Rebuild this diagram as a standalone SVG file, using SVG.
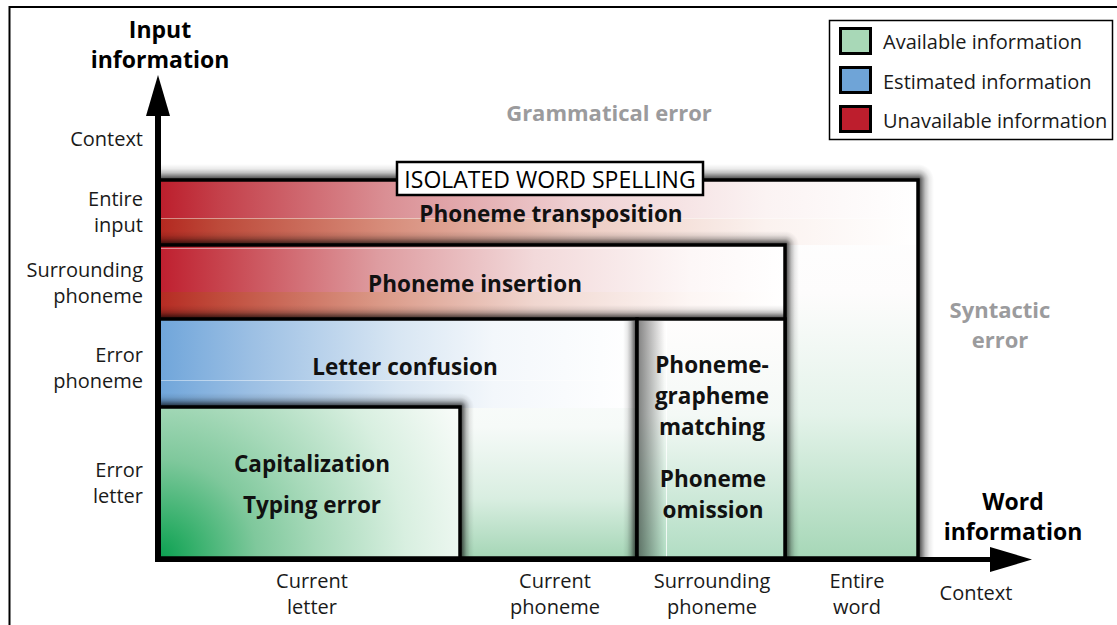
<svg xmlns="http://www.w3.org/2000/svg" width="1117" height="625" viewBox="0 0 1117 625">
<style>
text{font-family:"Open Sans","Noto Sans","Liberation Sans",sans-serif}
.lbl{font-size:20px;fill:#1a1a1a}
.b{font-size:22.5px;font-weight:700;fill:#111}
.ax{font-size:23px;font-weight:700;fill:#000}
.gr{font-size:22px;font-weight:700;fill:#9b9b9d}
.mid{text-anchor:middle}
.end{text-anchor:end}
.edge{fill:none;stroke:#000;stroke-width:3.5}
.up{fill:url(#gU)}
.rt{fill:url(#gR)}
.lt{fill:url(#gL)}
.tr{fill:url(#gTR)}
.sw{stroke:#000;stroke-width:3}
.hl{stroke:#fff;stroke-opacity:.45}
</style>
<defs>
  <!-- soft shadow fades, dark at the box edge -->
  <linearGradient id="gU" x1="0" y1="1" x2="0" y2="0">
    <stop offset="0" stop-color="#000" stop-opacity=".8"/><stop offset=".2" stop-color="#000" stop-opacity=".55"/>
    <stop offset=".45" stop-color="#000" stop-opacity=".25"/><stop offset=".7" stop-color="#000" stop-opacity=".08"/>
    <stop offset="1" stop-color="#000" stop-opacity="0"/>
  </linearGradient>
  <linearGradient id="gR" href="#gU" x1="0" y1="0" x2="1" y2="0"/>
  <linearGradient id="gL" href="#gU" x1="1" y1="0" x2="0" y2="0"/>
  <radialGradient id="gTR" href="#gU" cx="0" cy="1" r="1" fx="0" fy="1"/>
  <!-- red bands -->
  <linearGradient id="redT1" gradientUnits="userSpaceOnUse" x1="158" y1="0" x2="918" y2="0">
    <stop offset="0" stop-color="#bc1d2b"/><stop offset=".08" stop-color="#c4404a"/><stop offset=".3" stop-color="#da8f94"/>
    <stop offset=".55" stop-color="#efd0d2"/><stop offset=".8" stop-color="#fbf3f3"/><stop offset="1" stop-color="#fff"/>
  </linearGradient>
  <linearGradient id="redT2" gradientUnits="userSpaceOnUse" x1="158" y1="0" x2="918" y2="0">
    <stop offset="0" stop-color="#b3271f"/><stop offset=".08" stop-color="#bd4a3a"/><stop offset=".3" stop-color="#d78d7b"/>
    <stop offset=".55" stop-color="#eccbc1"/><stop offset=".8" stop-color="#fbf2ef"/><stop offset="1" stop-color="#fff"/>
  </linearGradient>
  <linearGradient id="redI1" gradientUnits="userSpaceOnUse" x1="158" y1="0" x2="785" y2="0">
    <stop offset="0" stop-color="#bf1e2e"/><stop offset=".1" stop-color="#c7434d"/><stop offset=".35" stop-color="#de9ca0"/>
    <stop offset=".6" stop-color="#f2d9da"/><stop offset=".85" stop-color="#fdf7f7"/><stop offset="1" stop-color="#fff"/>
  </linearGradient>
  <linearGradient id="redI2" gradientUnits="userSpaceOnUse" x1="158" y1="0" x2="785" y2="0">
    <stop offset="0" stop-color="#b52a22"/><stop offset=".1" stop-color="#c04c3c"/><stop offset=".35" stop-color="#da9886"/>
    <stop offset=".6" stop-color="#f0d6cf"/><stop offset=".85" stop-color="#fdf6f4"/><stop offset="1" stop-color="#fff"/>
  </linearGradient>
  <!-- blue band -->
  <linearGradient id="blue" gradientUnits="userSpaceOnUse" x1="158" y1="0" x2="637" y2="0">
    <stop offset="0" stop-color="#6fa5da"/><stop offset=".2" stop-color="#9dc0e4"/><stop offset=".5" stop-color="#d8e6f3"/>
    <stop offset=".7" stop-color="#f3f7fb"/><stop offset="1" stop-color="#fff"/>
  </linearGradient>
  <!-- green fades -->
  <linearGradient id="gOuter" gradientUnits="userSpaceOnUse" x1="0" y1="180" x2="0" y2="558">
    <stop offset="0" stop-color="#fff"/><stop offset=".3" stop-color="#fdfcfc"/><stop offset=".62" stop-color="#e4f3ea"/><stop offset="1" stop-color="#a6d7b7"/>
  </linearGradient>
  <linearGradient id="gLC" gradientUnits="userSpaceOnUse" x1="0" y1="319" x2="0" y2="558">
    <stop offset="0" stop-color="#fff"/><stop offset=".45" stop-color="#f6faf8"/><stop offset=".75" stop-color="#d9eee1"/><stop offset="1" stop-color="#a5d6b6"/>
  </linearGradient>
  <linearGradient id="gPG" gradientUnits="userSpaceOnUse" x1="0" y1="319" x2="0" y2="558">
    <stop offset="0" stop-color="#fffdfd"/><stop offset=".4" stop-color="#f4f9f6"/><stop offset="1" stop-color="#b1ddc3"/>
  </linearGradient>
  <radialGradient id="gCap" gradientUnits="userSpaceOnUse" cx="158" cy="558" r="330">
    <stop offset="0" stop-color="#0a9f50"/><stop offset=".1" stop-color="#30ae68"/><stop offset=".3" stop-color="#7fc89c"/>
    <stop offset=".48" stop-color="#a6d9b9"/><stop offset=".75" stop-color="#d8efe0"/><stop offset="1" stop-color="#f7fbf8"/>
  </radialGradient>
  <linearGradient id="shadeL" x1="0" y1="0" x2="1" y2="0">
    <stop offset="0" stop-color="#000" stop-opacity=".5"/><stop offset="1" stop-color="#000" stop-opacity="0"/>
  </linearGradient>
</defs>

<!-- page frame -->
<path d="M9.5,625 V7 H1117" fill="none" stroke="#000" stroke-width="2"/>

<!-- ISOLATED WORD SPELLING region -->
<g id="isolated-word-spelling">
  <rect class="up" x="161" y="164" width="757" height="16"/>
  <rect class="tr" x="918" y="164" width="16" height="16"/>
  <rect class="rt" x="918" y="180" width="16" height="378"/>
  <rect x="158" y="180" width="760" height="378" fill="url(#gOuter)"/>
  <rect x="158" y="180" width="760" height="38" fill="url(#redT1)"/>
  <rect x="158" y="218" width="760" height="27" fill="url(#redT2)"/>
  <line class="hl" x1="158" y1="218.5" x2="918" y2="218.5"/>
  <rect class="edge" x="158" y="180" width="760" height="378"/>
</g>

<!-- Phoneme insertion -->
<g id="phoneme-insertion">
  <rect class="up" x="161" y="231" width="624" height="14"/>
  <rect class="tr" x="785" y="231" width="14" height="14"/>
  <rect class="rt" x="785" y="245" width="14" height="313"/>
  <rect x="158" y="245" width="627" height="313" fill="#fff"/>
  <rect x="158" y="245" width="627" height="47" fill="url(#redI1)"/>
  <rect x="158" y="292" width="627" height="27" fill="url(#redI2)"/>
  <line class="hl" x1="158" y1="248.5" x2="785" y2="248.5"/>
  <rect class="edge" x="158" y="245" width="627" height="313"/>
</g>

<!-- Letter confusion -->
<g id="letter-confusion">
  <rect class="up" x="161" y="305" width="476" height="14"/>
  <rect x="158" y="319" width="479" height="239" fill="url(#gLC)"/>
  <rect x="158" y="319" width="479" height="89" fill="url(#blue)"/>
  <line class="hl" x1="158" y1="380.5" x2="637" y2="380.5"/>
  <rect class="edge" x="158" y="319" width="479" height="239" stroke-width="4"/>
</g>

<!-- Phoneme-grapheme matching / omission -->
<g id="phoneme-grapheme">
  <rect class="up" x="637" y="305" width="148" height="14"/>
  <rect class="lt" x="623" y="321" width="14" height="237"/>
  <rect x="637" y="319" width="148" height="239" fill="url(#gPG)"/>
  <rect x="637" y="321" width="28" height="237" fill="url(#shadeL)"/>
  <line x1="666.5" y1="322" x2="666.5" y2="558" stroke="#fff" stroke-opacity=".8"/>
  <rect class="edge" x="637" y="319" width="148" height="239" stroke-width="4"/>
</g>

<!-- Capitalization / typing error -->
<g id="capitalization">
  <rect class="up" x="161" y="393" width="299" height="14"/>
  <rect class="tr" x="460" y="393" width="14" height="14"/>
  <rect class="rt" x="460" y="407" width="14" height="151"/>
  <rect x="158" y="407" width="302" height="151" fill="url(#gCap)"/>
  <rect class="edge" x="158" y="407" width="302" height="151" stroke-width="4"/>
</g>

<!-- title tag on the outer region -->
<g id="spelling-tag">
  <rect x="397" y="162" width="306" height="33" fill="#fff" stroke="#000" stroke-width="2.5"/>
  <text x="550" y="188" class="mid" font-size="23" fill="#000">ISOLATED WORD SPELLING</text>
</g>

<!-- axes -->
<g id="connectors">
  <line x1="158" y1="562" x2="158" y2="112" stroke="#000" stroke-width="6"/>
  <polygon points="146,116 158,75 170,116" fill="#000"/>
  <line x1="155" y1="559.5" x2="995" y2="559.5" stroke="#000" stroke-width="5"/>
  <polygon points="990,547 1032,559.5 990,572" fill="#000"/>
</g>

<!-- axis titles -->
<g id="axis-titles">
  <text class="ax mid" x="160" y="38">Input</text>
  <text class="ax mid" x="160" y="68">information</text>
  <text class="ax mid" x="1013" y="510">Word</text>
  <text class="ax mid" x="1013" y="540">information</text>
</g>

<!-- vertical axis levels -->
<g id="y-levels">
  <text class="lbl end" x="143" y="146">Context</text>
  <text class="lbl end" x="143" y="206">Entire</text>
  <text class="lbl end" x="143" y="232">input</text>
  <text class="lbl end" x="143" y="277">Surrounding</text>
  <text class="lbl end" x="143" y="303">phoneme</text>
  <text class="lbl end" x="143" y="362">Error</text>
  <text class="lbl end" x="143" y="388">phoneme</text>
  <text class="lbl end" x="143" y="477">Error</text>
  <text class="lbl end" x="143" y="503">letter</text>
</g>

<!-- horizontal axis levels -->
<g id="x-levels">
  <text class="lbl mid" x="312" y="588">Current</text>
  <text class="lbl mid" x="312" y="614">letter</text>
  <text class="lbl mid" x="555" y="588">Current</text>
  <text class="lbl mid" x="555" y="614">phoneme</text>
  <text class="lbl mid" x="712" y="588">Surrounding</text>
  <text class="lbl mid" x="712" y="614">phoneme</text>
  <text class="lbl mid" x="857" y="588">Entire</text>
  <text class="lbl mid" x="857" y="614">word</text>
  <text class="lbl mid" x="976" y="600">Context</text>
</g>

<!-- error types -->
<g id="error-labels">
  <text class="b mid" x="551" y="222">Phoneme transposition</text>
  <text class="b mid" x="475" y="292">Phoneme insertion</text>
  <text class="b mid" x="405" y="375">Letter confusion</text>
  <text class="b mid" x="712" y="373">Phoneme-</text>
  <text class="b mid" x="712" y="404">grapheme</text>
  <text class="b mid" x="712" y="435">matching</text>
  <text class="b mid" x="713" y="487">Phoneme</text>
  <text class="b mid" x="713" y="518">omission</text>
  <text class="b mid" x="312" y="472">Capitalization</text>
  <text class="b mid" x="312" y="513">Typing error</text>
  <text class="gr mid" x="609" y="121">Grammatical error</text>
  <text class="gr mid" x="1000" y="318">Syntactic</text>
  <text class="gr mid" x="1000" y="348">error</text>
</g>

<!-- legend -->
<g id="legend">
  <rect x="829.5" y="20.5" width="283" height="119" fill="#fff" stroke="#000" stroke-width="1.5"/>
  <rect class="sw" x="840.5" y="28.5" width="30" height="25" fill="#a8d8b7"/>
  <rect class="sw" x="840.5" y="67.5" width="30" height="25" fill="#6fa4d7"/>
  <rect class="sw" x="840.5" y="106.5" width="30" height="25" fill="#bd1e2d"/>
  <text class="lbl" x="883" y="49">Available information</text>
  <text class="lbl" x="883" y="89">Estimated information</text>
  <text class="lbl" x="883" y="128">Unavailable information</text>
</g>
</svg>
